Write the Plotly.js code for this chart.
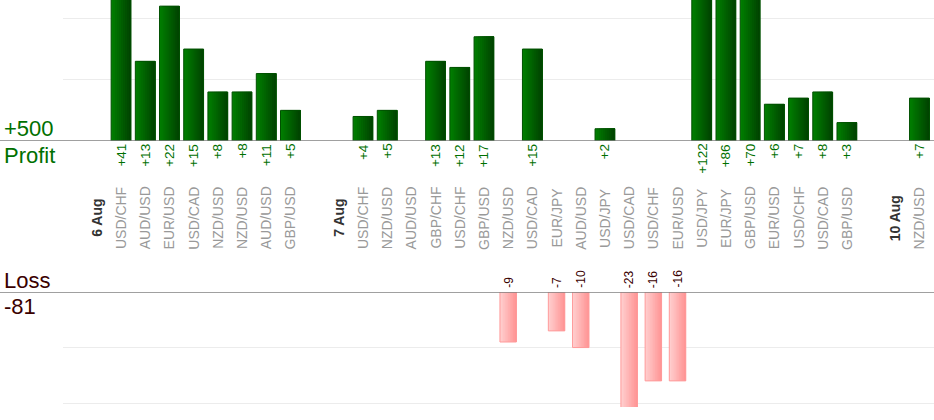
<!DOCTYPE html>
<html>
<head>
<meta charset="utf-8">
<script src="https://cdn.plot.ly/plotly-3.0.1.min.js"></script>
<style>html,body{margin:0;padding:0;background:#fff;}#chart{width:934px;height:420px;}</style>
</head>
<body>
<div id="chart"></div>
<script>
// ---- data ----
var categories = ["6 Aug","USD/CHF","AUD/USD","EUR/USD","USD/CAD","NZD/USD","NZD/USD","AUD/USD","GBP/USD","",
  "7 Aug","USD/CHF","NZD/USD","AUD/USD","GBP/CHF","USD/CHF","GBP/USD","NZD/USD","USD/CAD","EUR/JPY",
  "AUD/USD","USD/JPY","USD/CAD","USD/CHF","EUR/USD","USD/JPY","EUR/JPY","GBP/USD","EUR/USD","USD/CHF",
  "USD/CAD","GBP/USD","","10 Aug","NZD/USD"];
var profit = [null,41,13,22,15,8,8,11,5,null,
  null,4,5,null,13,12,17,null,15,null,
  null,2,null,null,null,122,86,70,6,7,
  8,3,null,null,7];
var loss = [null,null,null,null,null,null,null,null,null,null,
  null,null,null,null,null,null,null,-9,null,-7,
  -10,null,-23,-16,-16,null,null,null,null,null,
  null,null,null,null,null];
var profitTotal = "+500";
var lossTotal = "-81";

// ---- drawing ----
var W = 934, H = 420, L = 63;
var xs = categories.map(function(_, i){ return i; });
var FONT = "Liberation Sans, Arial, sans-serif";

function lerp(a, b, t){ return Math.round(a + (b - a) * t); }
function gradientBars(yvals, width, c0, c1, lineColor, xa, ya, n){
  var tr = [];
  var step = width / n;
  for (var k = 0; k < n; k++) {
    var t = k / (n - 1);
    var col = 'rgb(' + lerp(c0[0], c1[0], t) + ',' + lerp(c0[1], c1[1], t) + ',' + lerp(c0[2], c1[2], t) + ')';
    var off = -width / 2 + k * step;
    var wk = width / 2 - off; // each strip reaches the right edge; later strips paint over
    tr.push({type:'bar', x: xs, y: yvals, xaxis: xa, yaxis: ya,
      width: wk, offset: off,
      marker: {color: col, line: {width: 0}}, hoverinfo: 'skip', showlegend: false});
  }
  tr.push({type:'bar', x: xs, y: yvals, xaxis: xa, yaxis: ya,
    width: width, offset: -width / 2,
    marker: {color: 'rgba(0,0,0,0)', line: {width: 1, color: lineColor}}, hoverinfo: 'skip', showlegend: false});
  return tr;
}

var traces = [].concat(
  gradientBars(profit, 0.82, [0,125,0], [0,68,0], '#005000', 'x', 'y', 10),
  gradientBars(loss, 0.68, [255,205,205], [255,150,150], '#ff9a9a', 'x2', 'y2', 10)
);

function py(pix){ return (H - pix) / H; }
var anns = [];
categories.forEach(function(c, i){
  if (!c) return;
  var isDate = /Aug/.test(c);
  anns.push({x: i, xref: 'x', y: py(218), yref: 'paper', text: isDate ? '<b>' + c + '</b>' : c,
    textangle: -90, showarrow: false, xanchor: 'center', yanchor: 'middle',
    font: {family: FONT, size: 14, color: isDate ? '#333333' : '#999999'}});
});
profit.forEach(function(v, i){
  if (v === null) return;
  anns.push({x: i, xref: 'x', y: 0, yref: 'y', yshift: -1, text: '+' + v, textangle: -90, showarrow: false,
    xanchor: 'center', yanchor: 'top', font: {family: FONT, size: 13.5, color: '#007000'}});
});
loss.forEach(function(v, i){
  if (v === null) return;
  anns.push({x: i, xref: 'x2', y: 0, yref: 'y2', yshift: 2, text: String(v), textangle: -90, showarrow: false,
    xanchor: 'center', yanchor: 'bottom', font: {family: FONT, size: 12, color: '#3a0000'}});
});
var lx = -(L - 2) / (W - L);
anns.push({x: lx, xref: 'paper', y: py(128), yref: 'paper', text: profitTotal, showarrow: false,
  xanchor: 'left', yanchor: 'middle', font: {family: FONT, size: 22, color: '#007000'}});
anns.push({x: lx, xref: 'paper', y: py(155), yref: 'paper', text: 'Profit', showarrow: false,
  xanchor: 'left', yanchor: 'middle', font: {family: FONT, size: 22, color: '#007000'}});
anns.push({x: lx, xref: 'paper', y: py(280), yref: 'paper', text: 'Loss', showarrow: false,
  xanchor: 'left', yanchor: 'middle', font: {family: FONT, size: 22, color: '#3a0000'}});
anns.push({x: lx, xref: 'paper', y: py(306), yref: 'paper', text: lossTotal, showarrow: false,
  xanchor: 'left', yanchor: 'middle', font: {family: FONT, size: 22, color: '#3a0000'}});

var layout = {
  width: W, height: H,
  margin: {l: L, r: 0, t: 0, b: 0, pad: 0},
  paper_bgcolor: '#ffffff', plot_bgcolor: '#ffffff',
  barmode: 'overlay', showlegend: false,
  font: {family: FONT},
  xaxis: {range: [-1.4, 34.6], showticklabels: false, showgrid: false, zeroline: false, ticks: '', anchor: 'y', fixedrange: true},
  xaxis2: {range: [-1.4, 34.6], showticklabels: false, showgrid: false, zeroline: false, ticks: '', anchor: 'y2', fixedrange: true},
  yaxis: {domain: [py(141), 1], range: [0, 23], dtick: 10, showticklabels: false, gridcolor: '#ececec', gridwidth: 1, zeroline: false, ticks: '', fixedrange: true},
  yaxis2: {domain: [py(407), py(292)], range: [-20.7, 0], dtick: 10, showticklabels: false, gridcolor: '#ececec', gridwidth: 1, zeroline: false, ticks: '', fixedrange: true},
  shapes: [
    {type: 'line', xref: 'paper', yref: 'y', x0: -L / (W - L), x1: 1, y0: 0, y1: 0, line: {color: '#808080', width: 1.5}},
    {type: 'line', xref: 'paper', yref: 'y2', x0: -L / (W - L), x1: 1, y0: 0, y1: 0, line: {color: '#808080', width: 1.5}}
  ],
  annotations: anns
};
Plotly.newPlot('chart', traces, layout, {staticPlot: true, displayModeBar: false});
</script>
</body>
</html>
